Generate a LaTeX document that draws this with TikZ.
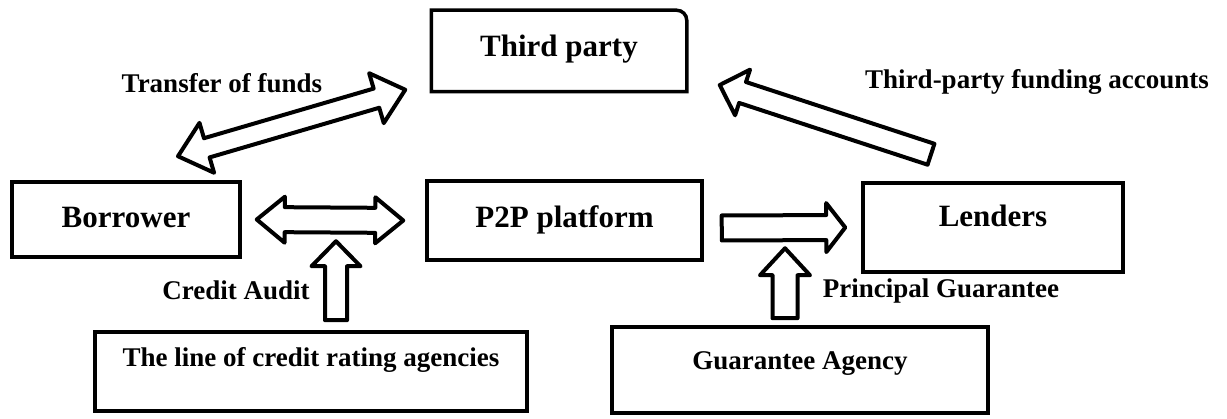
\documentclass[tikz,border=0pt]{standalone}
\usepackage{fontspec}
\setmainfont{Liberation Serif}
\usetikzlibrary{calc}
\tikzset{
  boxline/.style={line width=3.5pt, draw=black},
  bigbox/.style={boxline, inner sep=0pt, font=\bfseries\fontsize{31}{31}\selectfont},
  smallbox/.style={boxline, inner sep=0pt, font=\bfseries\fontsize{27}{27}\selectfont},
  lab/.style={inner sep=0pt, anchor=base, font=\bfseries\fontsize{27}{27}\selectfont},
  arrowline/.style={line width=4pt, draw=black, fill=white, line join=round}
}
% single block arrow: #1 tail, #2 tip, #3 shaft half width, #4 head half width, #5 head length
\newcommand\fatarrow[5]{%
  \coordinate (tmpH) at ($(#2)!#5!(#1)$);
  \draw[arrowline] ($(#1)!#3!90:(#2)$) -- ($(tmpH)!#3!90:(#2)$) -- ($(tmpH)!#4!90:(#2)$) -- (#2)
     -- ($(tmpH)!#4!-90:(#2)$) -- ($(tmpH)!#3!-90:(#2)$) -- ($(#1)!#3!-90:(#2)$) -- cycle;
}
% double block arrow: #1 tip A, #2 tip B
\newcommand\fatdarrow[5]{%
  \coordinate (tmpA) at ($(#1)!#5!(#2)$);
  \coordinate (tmpB) at ($(#2)!#5!(#1)$);
  \draw[arrowline] (#1) -- ($(tmpA)!#4!90:(#2)$) -- ($(tmpA)!#3!90:(#2)$) -- ($(tmpB)!#3!-90:(#1)$)
     -- ($(tmpB)!#4!-90:(#1)$) -- (#2) -- ($(tmpB)!#4!90:(#1)$) -- ($(tmpB)!#3!90:(#1)$)
     -- ($(tmpA)!#3!-90:(#2)$) -- ($(tmpA)!#4!-90:(#2)$) -- cycle;
}
\begin{document}
\begin{tikzpicture}[x=1pt,y=-1pt]
\useasboundingbox[fill=white] (0,0) rectangle (1227,419);

% boxes
\node[bigbox, draw=none, minimum width=252pt, minimum height=78pt, text height=22pt, text depth=10pt] (tp) at (559,51) {Third party};
\draw[boxline] (tp.south west) -- (tp.north west) [rounded corners=10pt] -- (tp.north east) [sharp corners] -- (tp.south east) -- cycle;
\node[bigbox, minimum width=228pt, minimum height=75pt, text height=22pt, text depth=5pt] (bor) at (126,219.5) {Borrower};
\node[bigbox, minimum width=275pt, minimum height=79pt, text height=22pt, text depth=7pt] (p2p) at (564.5,220.5) {P2P platform};
\node[bigbox, minimum width=260pt, minimum height=89pt, text height=22pt, text depth=23pt] (len) at (993,227.5) {Lenders};
\node[smallbox, minimum width=432pt, minimum height=79pt, text height=20pt, text depth=29pt] (cr) at (311,371.5) {The line of credit rating agencies};
\node[smallbox, minimum width=376pt, minimum height=86pt, text height=20pt, text depth=20pt] (ga) at (800,370) {Guarantee Agency};

% connector end points
\coordinate (tfA) at ([xshift=52pt,yshift=24pt]bor.north);
\coordinate (tfB) at ([xshift=-26pt,yshift=2pt]tp.south west);
\coordinate (bpA) at ([xshift=15pt]bor.east);
\coordinate (bpB) at ([xshift=-22pt]p2p.west);
\coordinate (caTail) at ([xshift=25pt,yshift=10pt]cr.north);
\coordinate (caTip) at ([yshift=79pt]caTail);
\coordinate (plTail) at ([xshift=18pt,yshift=-7.5pt]p2p.east);
\coordinate (plTip) at ([xshift=-16pt]len.west);
\coordinate (pgTail) at ([xshift=-15pt,yshift=7pt]ga.north);
\coordinate (pgTip) at ([yshift=70pt]pgTail);
\coordinate (fuTail) at ([xshift=-62pt,yshift=27pt]len.north);
\coordinate (fuTip) at ([xshift=33pt,yshift=-34pt]tp.east);

% block arrows
\fatdarrow{tfA}{tfB}{10pt}{26pt}{30pt}
\fatdarrow{bpA}{bpB}{12.5pt}{23pt}{28pt}
\fatarrow{caTail}{caTip}{11pt}{24.5pt}{25pt}
\fatarrow{plTail}{plTip}{12.5pt}{24.5pt}{19pt}
\fatarrow{pgTail}{pgTip}{12.5pt}{25pt}{27pt}
\fatarrow{fuTail}{fuTip}{11pt}{24pt}{24pt}

% labels
\node[lab] (ltf) at (222,93) {Transfer of funds};
\node[lab] (lfu) at (1037,89) {Third-party funding accounts};
\node[lab] (lca) at (236,300) {Credit Audit};
\node[lab] (lpg) at (941,298) {Principal Guarantee};
\end{tikzpicture}
\end{document}
